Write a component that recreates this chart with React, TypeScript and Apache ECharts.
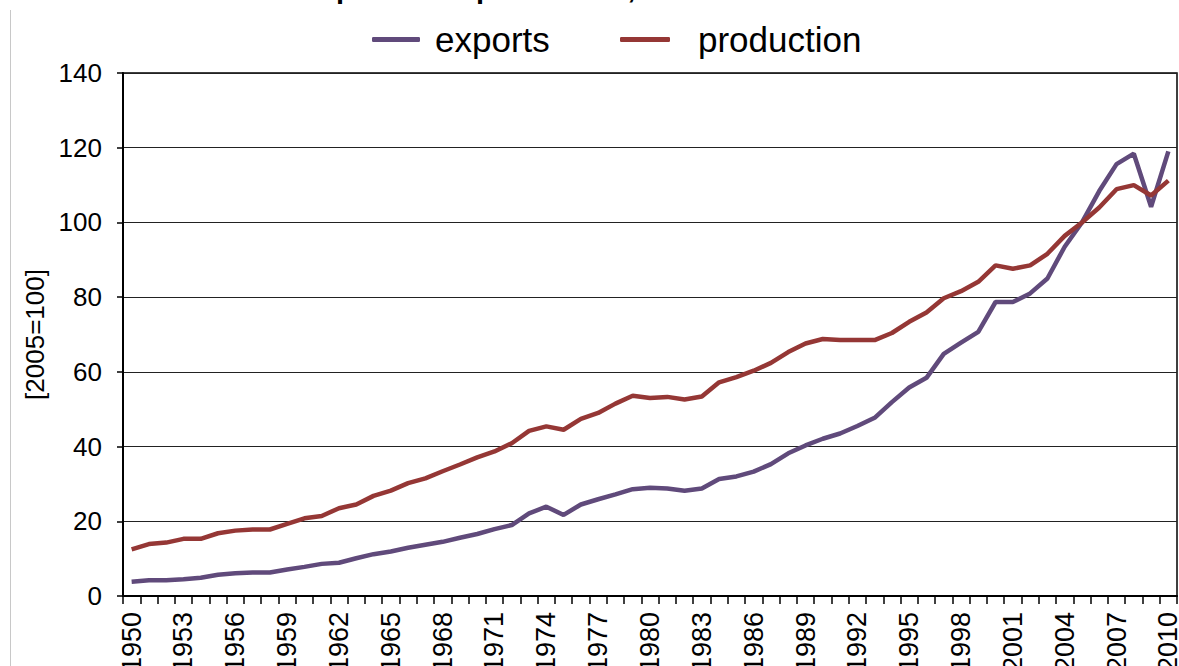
import React, { useEffect, useRef } from "react";
import * as echarts from "echarts";

const years: string[] = [];
for (let y = 1950; y <= 2010; y++) years.push(String(y));

const exportsIdx = [
  3.8, 4.2, 4.2, 4.5, 4.9, 5.7, 6.1, 6.3, 6.3, 7.1, 7.8, 8.6, 8.9, 10.1, 11.2, 11.9, 12.9, 13.7, 14.5, 15.6,
  16.6, 17.9, 19.0, 22.1, 23.9, 21.7, 24.5, 25.9, 27.2, 28.6, 29.0, 28.8, 28.2, 28.8, 31.3, 32.0, 33.3, 35.3, 38.2, 40.3,
  42.1, 43.5, 45.5, 47.7, 51.9, 55.8, 58.4, 64.8, 67.8, 70.7, 78.7, 78.7, 81.0, 85.0, 93.5, 100, 108.4, 115.6, 118.4, 104.2, 119.0,
];

const productionIdx = [
  12.5, 13.9, 14.3, 15.3, 15.3, 16.8, 17.5, 17.8, 17.8, 19.3, 20.8, 21.4, 23.5, 24.5, 26.8, 28.2, 30.2, 31.5, 33.4, 35.2,
  37.1, 38.7, 40.9, 44.2, 45.4, 44.5, 47.4, 49.0, 51.5, 53.6, 53.0, 53.3, 52.6, 53.4, 57.2, 58.6, 60.3, 62.4, 65.3, 67.6,
  68.8, 68.5, 68.5, 68.5, 70.4, 73.4, 75.9, 79.7, 81.6, 84.1, 88.5, 87.6, 88.5, 91.6, 96.4, 100, 104.0, 108.9, 110.0, 107.2, 111.2,
];

const titleText = "World merchandise exports and production, 1950-2010";
const yAxisName = "[2005=100]";

const FONT = "'Liberation Sans', Arial, sans-serif";
const PURPLE = "#604a7b";
const RED = "#953735";

export default function App() {
  const ref = useRef<HTMLDivElement>(null);
  useEffect(() => {
    if (!ref.current) return;
    const chart = echarts.init(ref.current, undefined, { renderer: "svg" });
    chart.setOption({
      animation: false,
      backgroundColor: "#ffffff",
      textStyle: { fontFamily: FONT },
      graphic: [
        {
          type: "text",
          left: 27,
          top: -27,
          style: { text: titleText, font: `bold 29px ${FONT}`, fill: "#000" },
        },
        {
          type: "line",
          shape: { x1: 10.5, y1: 10, x2: 10.5, y2: 666 },
          style: { stroke: "#c8c8c8", lineWidth: 1 },
        },
      ],
      legend: [
        {
          data: ["exports"],
          left: 367,
          top: 17,
          icon: "roundRect",
          itemWidth: 48,
          itemHeight: 5,
          textStyle: { fontSize: 35, color: "#000", fontFamily: FONT, padding: [0, 0, 0, 10] },
        },
        {
          data: ["production"],
          left: 615,
          top: 17,
          icon: "roundRect",
          itemWidth: 50,
          itemHeight: 5,
          textStyle: { fontSize: 35, color: "#000", fontFamily: FONT, padding: [0, 0, 0, 23] },
        },
      ],
      grid: {
        left: 123,
        right: 2,
        top: 73,
        bottom: 70,
        show: true,
        borderColor: "#000",
        borderWidth: 1.5,
        containLabel: false,
        outerBoundsMode: "none",
      },
      xAxis: {
        type: "category",
        data: years,
        boundaryGap: true,
        axisLine: { lineStyle: { color: "#000", width: 2 } },
        axisTick: { show: true, interval: 0, length: 8, lineStyle: { color: "#000", width: 1.5 } },
        axisLabel: {
          interval: 2,
          rotate: 90,
          fontSize: 27,
          color: "#000",
          fontFamily: FONT,
          margin: 16,
        },
        splitLine: { show: false },
      },
      yAxis: {
        type: "value",
        min: 0,
        max: 140,
        interval: 20,
        name: yAxisName,
        nameLocation: "middle",
        nameGap: 72,
        nameRotate: 90,
        nameTextStyle: { fontSize: 26, color: "#000", fontFamily: FONT },
        axisLine: { show: true, lineStyle: { color: "#000", width: 2 } },
        axisTick: { show: true, length: 6, lineStyle: { color: "#000", width: 1.5 } },
        axisLabel: { fontSize: 26, color: "#000", fontFamily: FONT, margin: 21 },
        splitLine: { show: true, lineStyle: { color: "#222", width: 1 } },
      },
      series: [
        {
          name: "exports",
          type: "line",
          data: exportsIdx,
          showSymbol: false,
          symbol: "none",
          lineStyle: { color: PURPLE, width: 4.5 },
          itemStyle: { color: PURPLE },
        },
        {
          name: "production",
          type: "line",
          data: productionIdx,
          showSymbol: false,
          symbol: "none",
          lineStyle: { color: RED, width: 4.5 },
          itemStyle: { color: RED },
        },
      ],
    });
    return () => chart.dispose();
  }, []);
  return <div ref={ref} style={{ width: 1179, height: 666, position: "absolute", left: 0, top: 0 }} />;
}
